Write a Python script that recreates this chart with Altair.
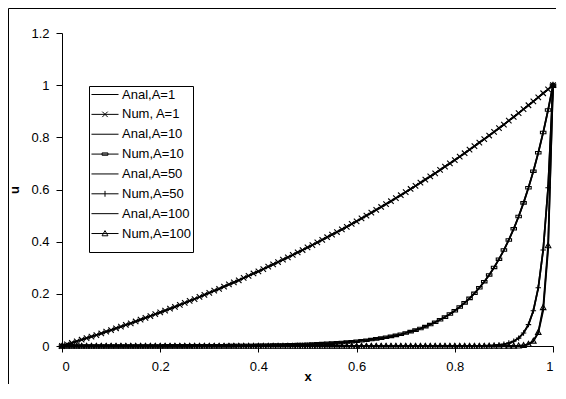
import altair as alt
import pandas as pd

# x grid of the solution (0.00 .. 1.00)
x_vals = [
    0.00, 0.01, 0.02, 0.03, 0.04, 0.05, 0.06, 0.07, 0.08, 0.09,
    0.10, 0.11, 0.12, 0.13, 0.14, 0.15, 0.16, 0.17, 0.18, 0.19,
    0.20, 0.21, 0.22, 0.23, 0.24, 0.25, 0.26, 0.27, 0.28, 0.29,
    0.30, 0.31, 0.32, 0.33, 0.34, 0.35, 0.36, 0.37, 0.38, 0.39,
    0.40, 0.41, 0.42, 0.43, 0.44, 0.45, 0.46, 0.47, 0.48, 0.49,
    0.50, 0.51, 0.52, 0.53, 0.54, 0.55, 0.56, 0.57, 0.58, 0.59,
    0.60, 0.61, 0.62, 0.63, 0.64, 0.65, 0.66, 0.67, 0.68, 0.69,
    0.70, 0.71, 0.72, 0.73, 0.74, 0.75, 0.76, 0.77, 0.78, 0.79,
    0.80, 0.81, 0.82, 0.83, 0.84, 0.85, 0.86, 0.87, 0.88, 0.89,
    0.90, 0.91, 0.92, 0.93, 0.94, 0.95, 0.96, 0.97, 0.98, 0.99,
    1.00,
]

anal_a1 = [
    0.000, 0.006, 0.012, 0.018, 0.024, 0.030, 0.036, 0.042, 0.048, 0.055,
    0.061, 0.068, 0.074, 0.081, 0.087, 0.094, 0.101, 0.108, 0.115, 0.122,
    0.129, 0.136, 0.143, 0.150, 0.158, 0.165, 0.173, 0.180, 0.188, 0.196,
    0.204, 0.212, 0.219, 0.228, 0.236, 0.244, 0.252, 0.261, 0.269, 0.278,
    0.286, 0.295, 0.304, 0.313, 0.322, 0.331, 0.340, 0.349, 0.359, 0.368,
    0.378, 0.387, 0.397, 0.407, 0.417, 0.427, 0.437, 0.447, 0.457, 0.468,
    0.478, 0.489, 0.500, 0.511, 0.522, 0.533, 0.544, 0.555, 0.567, 0.578,
    0.590, 0.602, 0.614, 0.626, 0.638, 0.650, 0.662, 0.675, 0.688, 0.700,
    0.713, 0.726, 0.739, 0.753, 0.766, 0.780, 0.793, 0.807, 0.821, 0.835,
    0.849, 0.864, 0.878, 0.893, 0.908, 0.923, 0.938, 0.953, 0.969, 0.984,
    1.000,
]
num_a1 = anal_a1

anal_a10 = [
    0.0000, 0.0000, 0.0000, 0.0000, 0.0000, 0.0000, 0.0000, 0.0000, 0.0001, 0.0001,
    0.0001, 0.0001, 0.0001, 0.0002, 0.0002, 0.0002, 0.0002, 0.0002, 0.0003, 0.0003,
    0.0003, 0.0004, 0.0004, 0.0005, 0.0005, 0.0006, 0.0006, 0.0007, 0.0007, 0.0008,
    0.0009, 0.0010, 0.0011, 0.0012, 0.0014, 0.0015, 0.0017, 0.0018, 0.0020, 0.0022,
    0.0025, 0.0027, 0.0030, 0.0034, 0.0037, 0.0041, 0.0045, 0.0050, 0.0055, 0.0061,
    0.0067, 0.0074, 0.0082, 0.0091, 0.0101, 0.0111, 0.0123, 0.0136, 0.0150, 0.0166,
    0.0183, 0.0202, 0.0224, 0.0247, 0.0273, 0.0302, 0.0334, 0.0369, 0.0408, 0.0450,
    0.0498, 0.0550, 0.0608, 0.0672, 0.0743, 0.0821, 0.0907, 0.1003, 0.1108, 0.1225,
    0.1353, 0.1496, 0.1653, 0.1827, 0.2019, 0.2231, 0.2466, 0.2725, 0.3012, 0.3329,
    0.3679, 0.4066, 0.4493, 0.4966, 0.5488, 0.6065, 0.6703, 0.7408, 0.8187, 0.9048,
    1.0000,
]
num_a10 = anal_a10

anal_a50 = [
    0, 0, 0, 0, 0, 0, 0, 0, 0, 0,
    0, 0, 0, 0, 0, 0, 0, 0, 0, 0,
    0, 0, 0, 0, 0, 0, 0, 0, 0, 0,
    0, 0, 0, 0, 0, 0, 0, 0, 0, 0,
    0, 0, 0, 0, 0, 0, 0, 0, 0, 0,
    0, 0, 0, 0, 0, 0, 0, 0, 0, 0,
    0, 0, 0, 0, 0, 0, 0, 0, 0, 0,
    0, 0, 0, 0, 0, 0, 0, 0, 0, 0,
    0.0000, 0.0000, 0.0001, 0.0002, 0.0003, 0.0006, 0.0009, 0.0015, 0.0025, 0.0041,
    0.0067, 0.0111, 0.0183, 0.0302, 0.0498, 0.0821, 0.1353, 0.2231, 0.3679, 0.6065,
    1.0000,
]
num_a50 = anal_a50

anal_a100 = [
    0, 0, 0, 0, 0, 0, 0, 0, 0, 0,
    0, 0, 0, 0, 0, 0, 0, 0, 0, 0,
    0, 0, 0, 0, 0, 0, 0, 0, 0, 0,
    0, 0, 0, 0, 0, 0, 0, 0, 0, 0,
    0, 0, 0, 0, 0, 0, 0, 0, 0, 0,
    0, 0, 0, 0, 0, 0, 0, 0, 0, 0,
    0, 0, 0, 0, 0, 0, 0, 0, 0, 0,
    0, 0, 0, 0, 0, 0, 0, 0, 0, 0,
    0, 0, 0, 0, 0, 0, 0, 0, 0, 0,
    0.0000, 0.0001, 0.0003, 0.0009, 0.0025, 0.0067, 0.0183, 0.0498, 0.1353, 0.3679,
    1.0000,
]
num_a100 = [
    0, 0, 0, 0, 0, 0, 0, 0, 0, 0,
    0, 0, 0, 0, 0, 0, 0, 0, 0, 0,
    0, 0, 0, 0, 0, 0, 0, 0, 0, 0,
    0, 0, 0, 0, 0, 0, 0, 0, 0, 0,
    0, 0, 0, 0, 0, 0, 0, 0, 0, 0,
    0, 0, 0, 0, 0, 0, 0, 0, 0, 0,
    0, 0, 0, 0, 0, 0, 0, 0, 0, 0,
    0, 0, 0, 0, 0, 0, 0, 0, 0, 0,
    0, 0, 0, 0, 0, 0, 0, 0, 0, 0,
    0.0000, 0.0001, 0.0003, 0.0010, 0.0027, 0.0072, 0.0195, 0.0530, 0.1480, 0.3850,
    1.0000,
]

series_names = ["Anal,A=1", "Num, A=1", "Anal,A=10", "Num,A=10",
                "Anal,A=50", "Num,A=50", "Anal,A=100", "Num,A=100"]
series_values = [anal_a1, num_a1, anal_a10, num_a10,
                 anal_a50, num_a50, anal_a100, num_a100]
num_names = ["Num, A=1", "Num,A=10", "Num,A=50", "Num,A=100"]

x_ticks = [0, 0.2, 0.4, 0.6, 0.8, 1.0]
y_ticks = [0, 0.2, 0.4, 0.6, 0.8, 1.0, 1.2]

rows = []
for name, vals in zip(series_names, series_values):
    for xv, uv in zip(x_vals, vals):
        rows.append({"series": name, "x": xv, "u": uv})
df = pd.DataFrame(rows)

# marker glyphs (unit square)
marker_paths = [
    "M-1,-1L1,1M-1,1L1,-1",          # x
    "M-1,-0.45H1V0.45H-1Z",          # dash
    "M-1,0H1M0,-1V1",                # plus
    "M0,-1L1,0.8L-1,0.8Z",           # triangle
]
# legend glyphs: line + marker
LINE = "M-2.08,0H2.08"
legend_paths = [
    LINE,
    LINE + "M-0.42,-0.42L0.42,0.42M-0.42,0.42L0.42,-0.42",
    LINE,
    LINE + "M-0.45,-0.18H0.45V0.18H-0.45Z",
    LINE,
    LINE + "M0,-0.45V0.45",
    LINE,
    LINE + "M0,-0.45L0.45,0.35L-0.45,0.35Z",
]

x_enc = alt.X("x:Q", scale=alt.Scale(domain=[0, 1], nice=False),
              axis=alt.Axis(values=x_ticks, format="~g", title="x",
                            labelPadding=8, titlePadding=-3))
y_enc = alt.Y("u:Q", scale=alt.Scale(domain=[0, 1.2], nice=False),
              axis=alt.Axis(values=y_ticks, format="~g", title="u",
                            labelPadding=7, titlePadding=9))

frame_data = pd.DataFrame({"a": [0]})
frame_top = alt.Chart(frame_data).mark_rule(color="black", strokeWidth=1).encode(
    x=alt.value(-53.5), x2=alt.value(494), y=alt.value(-24.5)
)
frame_left = alt.Chart(frame_data).mark_rule(color="black", strokeWidth=1).encode(
    x=alt.value(-53.5), y=alt.value(-24.5), y2=alt.value(351)
)

lines = alt.Chart(df).mark_line(color="black", strokeWidth=1.7).encode(
    x=x_enc, y=y_enc, detail="series:N"
)

markers = alt.Chart(df).transform_filter(
    alt.FieldOneOfPredicate(field="series", oneOf=num_names)
).mark_point(filled=False, color="black", size=30, strokeWidth=1.1, opacity=1).encode(
    x=x_enc, y=y_enc,
    shape=alt.Shape("series:N", scale=alt.Scale(domain=num_names, range=marker_paths),
                    legend=None),
)

legend_layer = alt.Chart(df).transform_filter("false").mark_point(
    filled=False, color="black", opacity=1
).encode(
    x=x_enc, y=y_enc,
    shape=alt.Shape(
        "series:N",
        scale=alt.Scale(domain=series_names, range=legend_paths),
        legend=alt.Legend(
            title=" ", titleOrient="bottom", titleFontSize=10, titlePadding=0,
            orient="none", legendX=27, legendY=53,
            strokeColor="black", fillColor="white", padding=1.5,
            symbolSize=169, symbolStrokeWidth=1, symbolStrokeColor="black",
            symbolFillColor="transparent", symbolOffset=7.5,
            rowPadding=5.86, labelOffset=10,
            labelFont="Liberation Sans", labelFontSize=13, labelColor="black",
        ),
    ),
)

chart = alt.layer(frame_top, frame_left, lines, markers, legend_layer).resolve_scale(
    shape="independent"
).properties(
    width=491, height=313,
    padding={"left": 54, "top": 25, "right": 4, "bottom": 38},
    autosize="none",
).configure_axis(
    grid=False, domainColor="black", tickColor="black", labelColor="black",
    labelFont="Liberation Sans", labelFontSize=13, titleFont="Liberation Sans",
    titleFontSize=13, titleFontWeight="bold", titleColor="black",
    tickSize=6, domainWidth=1,
).configure_view(stroke=None)

chart.save("out.html", embed_options={"renderer": "svg", "actions": False})
